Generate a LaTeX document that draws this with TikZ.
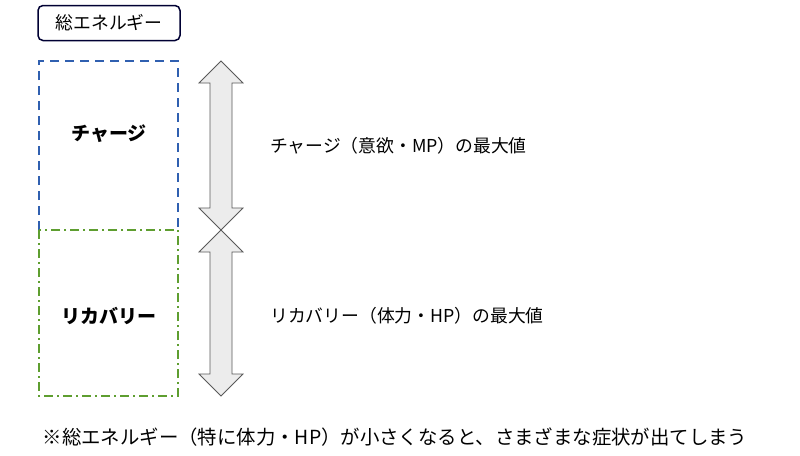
\documentclass[tikz,border=0pt]{standalone}
\usepackage{fontspec}
\newfontfamily\jp{Noto Sans CJK JP}
\definecolor{cblue}{HTML}{3060B0}
\definecolor{cgreen}{HTML}{5E9E30}
\begin{document}
\begin{tikzpicture}[x=1pt,y=-1pt,
  txt/.style={font=\jp\fontsize{17.8}{20}\selectfont, inner sep=0},
  bold/.style={font=\jp\bfseries\fontsize{19}{20}\selectfont, inner sep=0},
  arr/.style={draw=gray!70!black, fill=gray!15, line width=0.8pt}]
\useasboundingbox[fill=white] (0,0) rectangle (800,455);
\node[draw=black!80!blue, line width=1.5pt, rounded corners=5pt, minimum width=142pt, minimum height=35pt, txt] (total) at (109,23) {総エネルギー};
\draw[draw=cblue, dash pattern=on 9pt off 6pt, line width=1.6pt] (39,230) |- (178,61) -- (178,230);
\draw[draw=cgreen, dash pattern=on 9pt off 4pt on 2pt off 4pt, line width=1.6pt] (39,230) -- (39,396) -- (178,396) -- (178,230) -- cycle;
\node[bold] (charge) at (109,134) {チャージ};
\node[bold] (recov) at (109,316) {リカバリー};
\draw[arr] (221,61) -- (243,83) -- (232,83) -- (232,208) -- (243,208) -- (221,230) -- (199,208) -- (210,208) -- (210,83) -- (199,83) -- cycle;
\draw[arr] (221,230) -- (243,252) -- (232,252) -- (232,374) -- (243,374) -- (221,396) -- (199,374) -- (210,374) -- (210,252) -- (199,252) -- cycle;
\node[txt, anchor=west] (t1) at (270,146) {チャージ（意欲・MP）の最大値};
\node[txt, anchor=west] (t2) at (270,316) {リカバリー（体力・HP）の最大値};
\node[txt, font=\jp\fontsize{19.4}{22}\selectfont] (note) at (395,437) {※総エネルギー（特に体力・HP）が小さくなると、さまざまな症状が出てしまう};
\end{tikzpicture}
\end{document}
